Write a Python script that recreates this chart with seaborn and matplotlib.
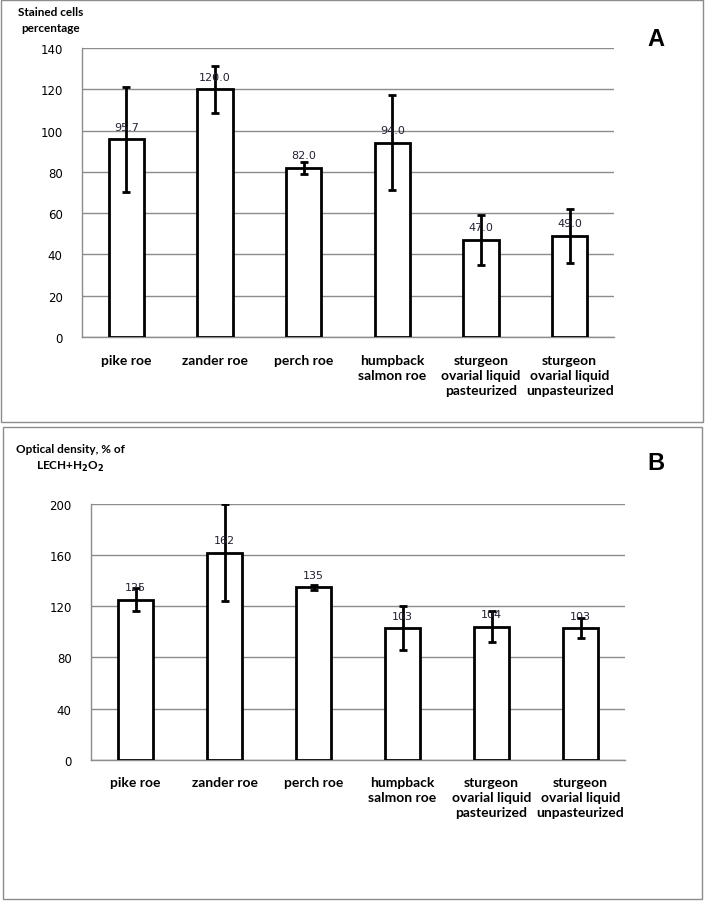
import matplotlib
matplotlib.use("Agg")
import matplotlib.pyplot as plt
import matplotlib.patches as mpatches
import pandas as pd
import seaborn as sns

categories = ["pike roe", "zander roe", "perch roe", "humpback\nsalmon roe",
              "sturgeon\novarial liquid\npasteurized",
              "sturgeon\novarial liquid\nunpasteurized"]

# panel A: stained cells percentage
stained_mean = [95.7, 120.0, 82.0, 94.0, 47.0, 49.0]
stained_err = [25.6, 11.5, 3.0, 23.0, 12.0, 13.0]
stained_labels = ["95.7", "120.0", "82.0", "94.0", "47.0", "49.0"]

# panel B: optical density, % of LECH+H2O2
density_mean = [125, 162, 135, 103, 104, 103]
density_err = [9, 38, 2, 17, 12, 8]
density_labels = ["125", "162", "135", "103", "104", "103"]

sns.set_style("white")
plt.rcParams["font.family"] = ["DejaVu Sans"]
plt.rcParams["text.color"] = "black"
plt.rcParams["ytick.color"] = "black"
plt.rcParams["xtick.color"] = "black"

label_font = ["Liberation Sans Narrow", "Lato", "DejaVu Sans"]
grid_col = "#8c8c8c"

fig = plt.figure(figsize=(7.07, 9.04), dpi=100)

# outer frames around each panel
for (x0, y0, x1, y1) in [(1, 1, 703, 423), (3, 428, 702, 900)]:
    fig.patches.append(mpatches.Rectangle(
        (x0 / 707, 1 - y1 / 904), (x1 - x0) / 707, (y1 - y0) / 904,
        transform=fig.transFigure, fill=False, edgecolor=grid_col, linewidth=1))


def draw_panel(ax, means, errs, labels, ymax, ystep, ylab, letter, fmt_pos):
    df = pd.DataFrame({"cat": categories, "val": means})
    sns.barplot(data=df, x="cat", y="val", ax=ax, color="white",
                edgecolor="black", linewidth=2, width=0.4, errorbar=None,
                zorder=3)
    ax.errorbar(range(len(means)), means, yerr=errs, fmt="none",
                ecolor="black", elinewidth=2, capsize=3, capthick=2, zorder=4)
    for i, (m, t) in enumerate(zip(means, labels)):
        ax.annotate(t, (i, m), xytext=(0, 9), textcoords="offset points",
                    ha="center", va="center", fontsize=8, color="#222233",
                    zorder=5)
    ax.set_ylim(0, ymax)
    ax.set_xlim(-0.5, len(means) - 0.5)
    ax.set_yticks(range(0, ymax + 1, ystep))
    ax.yaxis.grid(True, color=grid_col, linewidth=1)
    ax.set_axisbelow(True)
    for s in ["top", "right"]:
        ax.spines[s].set_visible(False)
    for s in ["left", "bottom"]:
        ax.spines[s].set_color(grid_col)
        ax.spines[s].set_linewidth(1)
    ax.tick_params(axis="y", length=0, labelsize=8.5, pad=14)
    ax.tick_params(axis="x", length=0, pad=12)
    ax.set_xlabel("")
    ax.set_ylabel("")
    for t in ax.get_xticklabels():
        t.set_fontfamily(label_font)
        t.set_fontweight("bold")
        t.set_fontsize(10)
        t.set_linespacing(1.3)
        t.set_verticalalignment("top")
    fig.text(fmt_pos[0], fmt_pos[1], ylab, fontsize=8.5, fontweight="bold",
             ha="center", va="top", linespacing=1.5, fontfamily=label_font)
    fig.text(fmt_pos[2], fmt_pos[3], letter, fontsize=17, fontweight="bold",
             ha="center", va="center", fontfamily=["Liberation Sans", "DejaVu Sans"])


ax_a = fig.add_axes([82 / 707, 1 - 338 / 904, (614 - 82) / 707, (338 - 49) / 904])
draw_panel(ax_a, stained_mean, stained_err, stained_labels, 140, 20,
           "Stained cells\npercentage", "A",
           (51 / 707, 1 - 7 / 904, 656 / 707, 1 - 39 / 904))

ax_b = fig.add_axes([91 / 707, 1 - 760.7 / 904, (625 - 91) / 707, (760.7 - 505) / 904])
draw_panel(ax_b, density_mean, density_err, density_labels, 200, 40,
           "Optical density, % of\nLECH+H$_\\mathbf{2}$O$_\\mathbf{2}$", "B",
           (70 / 707, 1 - 444 / 904, 656 / 707, 1 - 464 / 904))

fig.savefig("out.png", dpi=100)
